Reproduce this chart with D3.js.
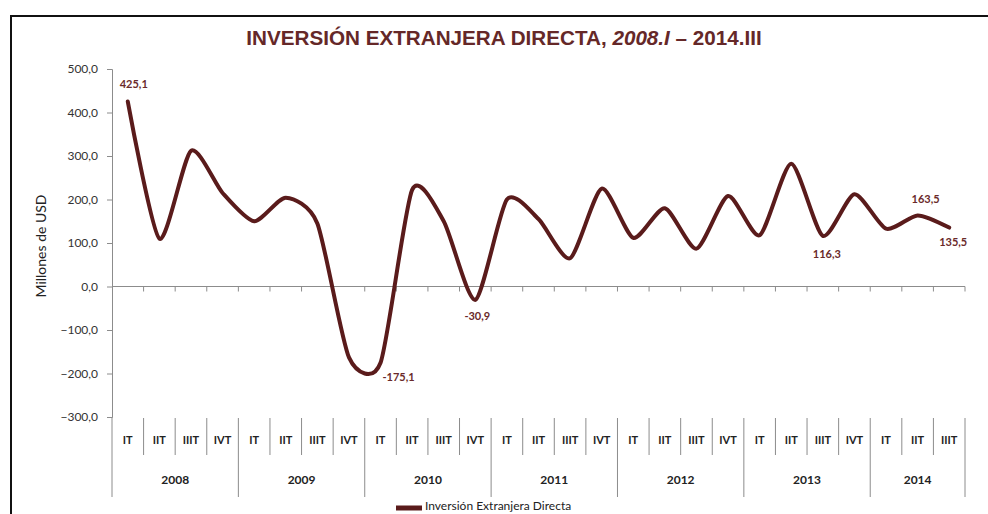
<!DOCTYPE html>
<html><head><meta charset="utf-8">
<script src="https://cdn.jsdelivr.net/npm/d3@7"></script>
<style>
body{margin:0;background:#fff;}
svg{display:block;}
</style></head>
<body>
<svg id="c" width="988" height="514"></svg>
<script>
const years = ["2008","2009","2010","2011","2012","2013","2014"];
const quarters = ["IT","IIT","IIIT","IVT"];
const categories = years.flatMap(y => quarters.map(q => y + "-" + q)).slice(0, 27);
const values = [425.1,110,312,215,150,204,145,-163,-175.1,222,150,-30.9,200,155,65,225,112,180,87,208,118,282,116.3,212,133,163.5,135.5];
const labelled = {0:"425,1",8:"-175,1",11:"-30,9",22:"116,3",25:"163,5",26:"135,5"};
const yTicks = [-300,-200,-100,0,100,200,300,400,500];
const seriesName = "Inversión Extranjera Directa";

const font = "Lato,'Open Sans',sans-serif";
const tfont = "'Liberation Sans Narrow','Liberation Sans',sans-serif";
const svg = d3.select("#c");
const L = 112, R = 965, T = 69, B = 417;
const x = d3.scaleBand().domain(categories).range([L, R]);
const y = d3.scaleLinear().domain([-300, 500]).range([B, T]);
const lineColor = "#5a1b1b";

// frame
svg.append("rect").attr("x",11).attr("y",16).attr("width",990).attr("height",520)
  .attr("fill","none").attr("stroke","#111").attr("stroke-width",2);

// title
const title = svg.append("text").attr("x",504).attr("y",45).attr("text-anchor","middle")
  .attr("fill","#652828").attr("font-family",tfont).attr("font-size",22).attr("font-weight","bold");
title.append("tspan").text("INVERSIÓN EXTRANJERA DIRECTA, ");
title.append("tspan").attr("font-style","italic").text("2008.I");
title.append("tspan").text(" – 2014.III");
const tw = title.node().getComputedTextLength();
title.attr("font-size", 22 * 516 / tw);

// y axis
const yAxis = svg.append("g").attr("transform",`translate(${L},0)`)
  .call(d3.axisLeft(y).tickValues(yTicks).tickSize(5).tickPadding(9)
    .tickFormat(d => d3.format(".1f")(d).replace(".", ",")));
yAxis.select(".domain").attr("stroke","#8c8c8c");
yAxis.selectAll(".tick line").attr("stroke","#8c8c8c");
yAxis.selectAll("text").attr("font-family",font).attr("font-size",12).attr("fill","#333");

svg.append("text").attr("transform","translate(46,246) rotate(-90)").attr("text-anchor","middle")
  .attr("font-family",font).attr("font-size",14).attr("fill","#222").text("Millones de USD");

// zero axis with boundary ticks
svg.append("line").attr("x1",L).attr("x2",R).attr("y1",y(0)).attr("y2",y(0)).attr("stroke","#8c8c8c");
const bounds = d3.range(1, categories.length + 1).map(i => L + i * x.step());
svg.selectAll(".zt").data(bounds).join("line")
  .attr("x1",d=>d).attr("x2",d=>d).attr("y1",y(0)).attr("y2",y(0)+5).attr("stroke","#8c8c8c");

// category label grid
const g = svg.append("g");
g.append("line").attr("x1",L).attr("x2",L).attr("y1",B).attr("y2",497).attr("stroke","#8c8c8c");
categories.forEach((c, i) => {
  const xb = x(c) + x.step();
  const isYear = (i + 1) % 4 === 0 || i === categories.length - 1;
  g.append("line").attr("x1",xb).attr("x2",xb).attr("y1",418).attr("y2",isYear ? 497 : 455)
    .attr("stroke","#8c8c8c");
  g.append("text").attr("x",x(c) + x.bandwidth()/2).attr("y",444).attr("text-anchor","middle")
    .attr("font-family",font).attr("font-size",11).attr("font-weight","bold").attr("fill","#222")
    .text(c.split("-")[1]);
});
years.forEach((yr, j) => {
  const cats = categories.filter(c => c.startsWith(yr));
  const x0 = x(cats[0]), x1 = x(cats[cats.length-1]) + x.step();
  g.append("text").attr("x",(x0+x1)/2).attr("y",484).attr("text-anchor","middle")
    .attr("font-family",font).attr("font-size",12).attr("font-weight","bold").attr("fill","#222").text(yr);
});

// line
const line = d3.line().x((d,i) => x(categories[i]) + x.bandwidth()/2).y(d => y(d)).curve(d3.curveCardinal.tension(0.3));
svg.append("path").datum(values).attr("d",line).attr("fill","none").attr("stroke",lineColor)
  .attr("stroke-width",4).attr("stroke-linecap","round");

// data labels
const offs = {0:[6,-14],8:[18,18],11:[2,20],22:[4,22],25:[8,-12],26:[4,18]};
Object.keys(labelled).forEach(k => {
  const i = +k;
  svg.append("text").attr("x", x(categories[i]) + x.bandwidth()/2 + offs[i][0]).attr("y", y(values[i]) + offs[i][1])
    .attr("text-anchor","middle").attr("font-family",font).attr("font-size",11).attr("font-weight","bold")
    .attr("fill","#6a2a2a").text(labelled[k]);
});

// legend
svg.append("line").attr("x1",396).attr("x2",422).attr("y1",508).attr("y2",508).attr("stroke",lineColor).attr("stroke-width",5);
svg.append("text").attr("x",425).attr("y",510).attr("font-family",font).attr("font-size",12).attr("fill","#222").text(seriesName);
</script>
</body></html>
